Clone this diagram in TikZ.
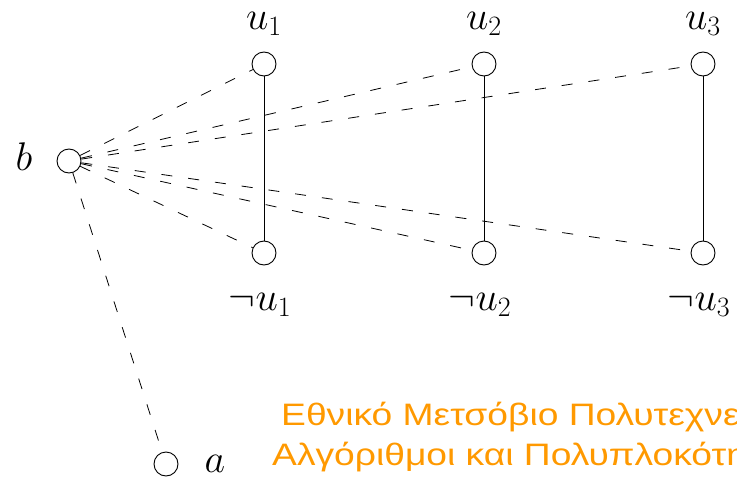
\documentclass[tikz,border=0pt]{standalone}
\usepackage{fix-cm}
\usepackage{amsmath,amssymb}
\usepackage{xcolor}
\usepackage{fontspec}
\newfontfamily\greekfont[FakeStretch=1.2]{Liberation Sans}
\usepackage{tikz}
\usetikzlibrary{positioning}
\definecolor{ntuaorange}{RGB}{255,153,0}
\tikzset{
  vertex/.style={
    shape = circle,
    draw,
    line width = 0.9pt,
    inner sep = 0pt,
    minimum size = 24pt
  },
  literal/.style={
    inner sep = 0pt,
    font = \fontsize{40}{48}\selectfont
  },
  pairedge/.style={
    line width = 0.8pt
  },
  reduction/.style={
    line width = 0.8pt,
    %dashed,
    dash pattern = on 11pt off 16pt
  },
  banner/.style={
    anchor = base west,
    inner sep = 0pt,
    text = ntuaorange,
    font = \greekfont\fontsize{31}{37}\selectfont
  }
}

\begin{document}
\begin{tikzpicture}[x=1pt,y=-1pt]
  \useasboundingbox (0,0) rectangle (737,479);
  \clip (0,0) rectangle (737,479);
  % variable gadgets
  \node[vertex] (u1) at (264,64) {};
  \node[vertex] (nu1) at (264,253) {};
  \node[vertex] (u2) at (484,64) {};
  \node[vertex] (nu2) at (484,253) {};
  \node[vertex] (u3) at (703,64) {};
  \node[vertex] (nu3) at (703,253) {};
  \node[vertex] (b) at (69,161) {};
  \node[vertex] (a) at (166,464) {};
  % labels
  \node[literal, above=16pt of u1] (lu1) {$u_1$};
  \node[literal, above=16pt of u2] (lu2) {$u_2$};
  \node[literal, above=16pt of u3] (lu3) {$u_3$};
  \node[literal, below=28pt of nu1, xshift=-4pt] (lnu1) {$\neg u_1$};
  \node[literal, below=28pt of nu2, xshift=-4pt] (lnu2) {$\neg u_2$};
  \node[literal, below=28pt of nu3, xshift=-4pt] (lnu3) {$\neg u_3$};
  \node[literal, left=24pt of b, yshift=4pt] (lb) {$b$};
  \node[literal, right=26pt of a] (la) {$a$};
  % edges
  \draw[pairedge] (u1) -- (nu1);
  \draw[pairedge] (u2) -- (nu2);
  \draw[pairedge] (u3) -- (nu3);
  \draw[reduction] (b) -- (u1);
  \draw[reduction] (b) -- (u2);
  \draw[reduction] (b) -- (u3);
  \draw[reduction] (b) -- (nu1);
  \draw[reduction] (b) -- (nu2);
  \draw[reduction] (b) -- (nu3);
  \draw[reduction] (b) -- (a);
  % watermark
  \node[banner] (ntua) at (281,425) {Εθνικό Μετσόβιο Πολυτεχνείο};
  \node[banner] (course) at (272,465) {Αλγόριθμοι και Πολυπλοκότητα};
\end{tikzpicture}
\end{document}
